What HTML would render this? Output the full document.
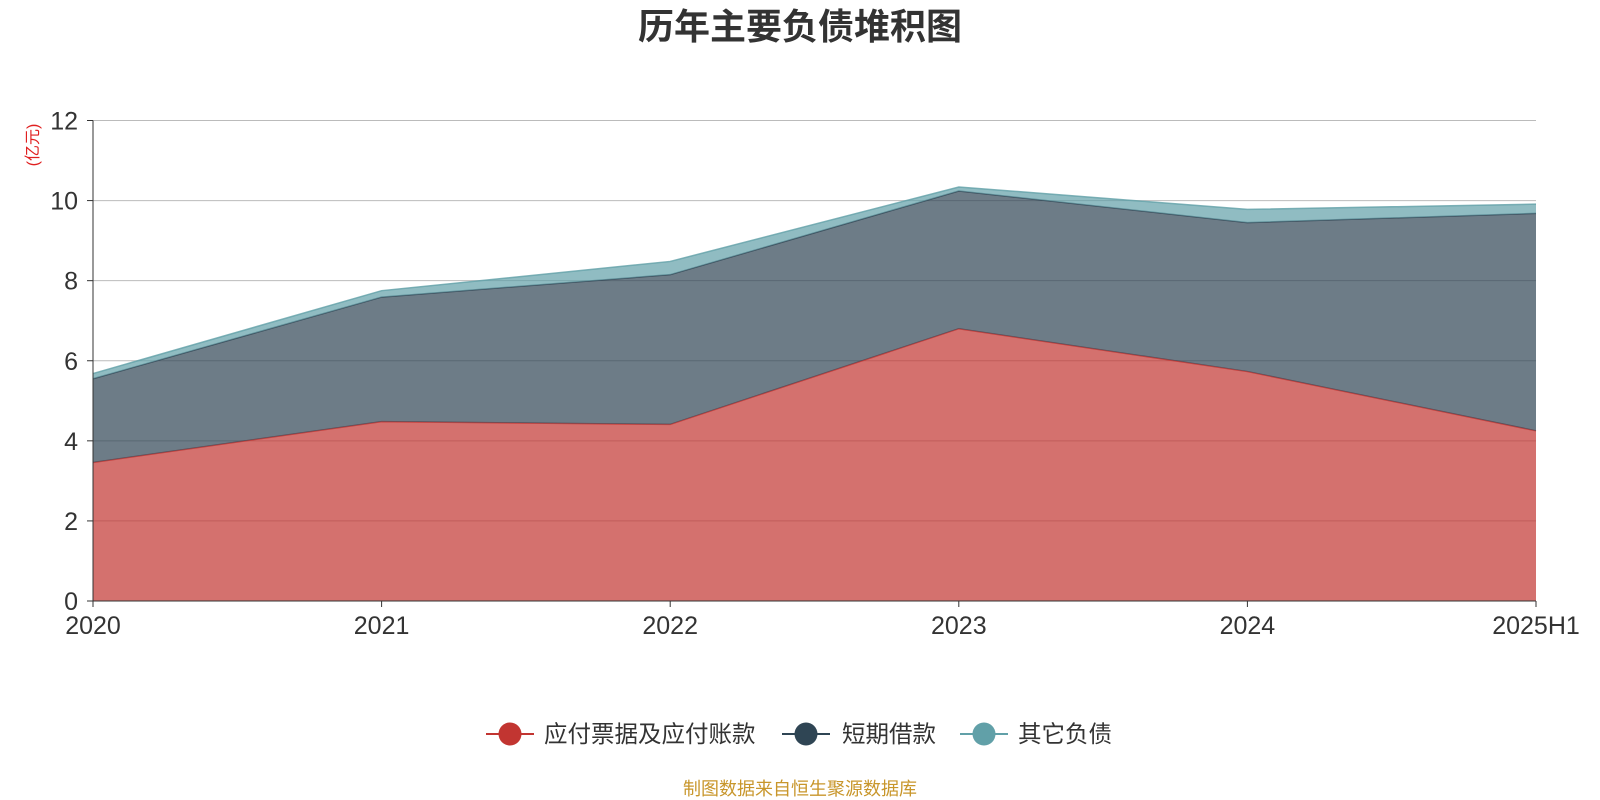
<!DOCTYPE html>
<html><head><meta charset="utf-8"><style>
body{margin:0;background:#fff;}
svg{display:block;font-family:"Liberation Sans","Noto Sans CJK SC",sans-serif;}
</style></head><body>
<svg id="chart" width="1600" height="800">
<text x="800" y="39" text-anchor="middle" font-size="36" font-weight="bold" fill="#333">历年主要负债堆积图</text>
<text transform="translate(38,145) rotate(-90)" text-anchor="middle" font-size="16" fill="#e02020">(亿元)</text>
<g id="grid"></g><g id="areas"></g><g id="axes"></g>
<g>
<g><line x1="486" y1="734" x2="534" y2="734" stroke="#c23531" stroke-width="2"/><circle cx="510" cy="734" r="11.5" fill="#c23531"/><text x="544" y="742" font-size="23.5" fill="#333">应付票据及应付账款</text></g>
<g><line x1="782" y1="734" x2="830" y2="734" stroke="#2f4554" stroke-width="2"/><circle cx="806" cy="734" r="11.5" fill="#2f4554"/><text x="842" y="742" font-size="23.5" fill="#333">短期借款</text></g>
<g><line x1="960" y1="734" x2="1008" y2="734" stroke="#61a0a8" stroke-width="2"/><circle cx="984" cy="734" r="11.5" fill="#61a0a8"/><text x="1018" y="742" font-size="23.5" fill="#333">其它负债</text></g>
</g>
<text x="800" y="795" text-anchor="middle" font-size="18" fill="#c8962b">制图数据来自恒生聚源数据库</text>
</svg>
<script>
const categories=["2020","2021","2022","2023","2024","2025H1"];
const payables=[3.46,4.48,4.41,6.80,5.73,4.25];
const shortLoans=[2.09,3.11,3.74,3.44,3.72,5.43];
const otherDebt=[0.13,0.16,0.33,0.10,0.33,0.23];
const yTicks=[0,2,4,6,8,10,12];
const NS="http://www.w3.org/2000/svg";
const x0=93,x1=1536,y0=601,y1=120.5,yMax=12;
const xs=i=>x0+(x1-x0)*i/(categories.length-1);
const ys=v=>y0-(y0-y1)*v/yMax;
function mk(t,a,p){const e=document.createElementNS(NS,t);for(const k in a)e.setAttribute(k,a[k]);p.appendChild(e);return e;}
const grid=document.getElementById('grid'),areas=document.getElementById('areas'),axes=document.getElementById('axes');
yTicks.forEach(v=>{
 if(v>0){const l=mk('line',{x1:x0,x2:x1,y1:ys(v),y2:ys(v),stroke:'#bbb','stroke-width':1},grid);
 
 }
 const tk=mk('line',{x1:x0-6,x2:x0,y1:ys(v),y2:ys(v),stroke:'#333'},axes);
 
 
 const t=mk('text',{x:x0-15,y:ys(v)+9,'text-anchor':'end','font-size':25,fill:'#333'},axes);t.textContent=v;
 
 
});
const series=[[payables,'#c23531','area-payables'],[shortLoans,'#2f4554','area-short-loans'],[otherDebt,'#61a0a8','area-other-debt']];
let base=categories.map(()=>0);
series.forEach(([d,c,name])=>{
 const top=base.map((b,i)=>b+d[i]);
 let p=top.map((v,i)=>(i?'L':'M')+xs(i)+','+ys(v)).join('');
 for(let i=categories.length-1;i>=0;i--)p+='L'+xs(i)+','+ys(base[i]);
 const a=mk('path',{d:p+'Z',fill:c,'fill-opacity':0.7},areas);
 
 
 const ln=mk('path',{d:top.map((v,i)=>(i?'L':'M')+xs(i)+','+ys(v)).join(''),fill:'none',stroke:c,'stroke-width':1.5,'stroke-opacity':0.8},areas);
 
 
 base=top;
});
const ya=mk('line',{x1:x0,x2:x0,y1:y1,y2:y0,stroke:'#333'},axes);


const xa=mk('line',{x1:x0,x2:x1,y1:y0,y2:y0,stroke:'#333'},axes);


categories.forEach((c,i)=>{
 const tk=mk('line',{x1:xs(i),x2:xs(i),y1:y0,y2:y0+6,stroke:'#333'},axes);
 
 
 const t=mk('text',{x:xs(i),y:y0+33,'text-anchor':'middle','font-size':25,fill:'#333'},axes);t.textContent=c;
 
 
});
</script>
</body></html>
